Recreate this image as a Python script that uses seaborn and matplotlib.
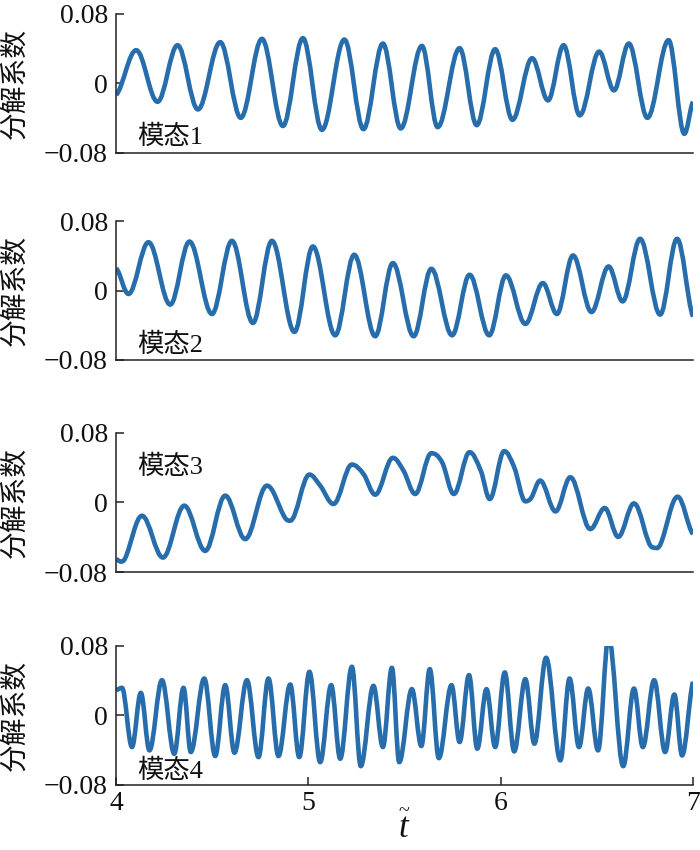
import numpy as np
import pandas as pd
import seaborn as sns
import matplotlib.pyplot as plt
from matplotlib.path import Path
from matplotlib.patches import PathPatch

# ---------------- data (turning points) ----------------
mode1_t = [4.000, 4.104, 4.215, 4.319, 4.425, 4.541, 4.648, 4.758, 4.867, 4.971,
           5.070, 5.187, 5.286, 5.387, 5.480, 5.590, 5.672, 5.786, 5.875, 5.971,
           6.061, 6.163, 6.246, 6.327, 6.411, 6.512, 6.589, 6.666, 6.763, 6.873,
           6.955, 7.000]
mode1_v = [-0.0135, 0.038, -0.0212, 0.0437, -0.030, 0.0472, -0.0396, 0.051, -0.049, 0.0518,
           -0.0534, 0.0502, -0.0526, 0.0456, -0.0518, 0.0429, -0.0503, 0.0403, -0.048, 0.0391,
           -0.0419, 0.0288, -0.0196, 0.0437, -0.0368, 0.0364, -0.0081, 0.0456, -0.0396, 0.0495,
           -0.058, -0.0212]

mode2_t = [4.000, 4.064, 4.168, 4.281, 4.381, 4.498, 4.602, 4.711, 4.810, 4.927,
           5.023, 5.139, 5.238, 5.347, 5.439, 5.547, 5.639, 5.747, 5.838, 5.940,
           6.027, 6.128, 6.219, 6.292, 6.376, 6.472, 6.561, 6.634, 6.725, 6.829,
           6.917, 7.000]
mode2_v = [0.026, -0.0038, 0.056, -0.0161, 0.0568, -0.0269, 0.0576, -0.0372, 0.0576, -0.0476,
           0.0511, -0.0515, 0.0415, -0.0526, 0.0319, -0.0526, 0.0253, -0.0515, 0.0184, -0.0515,
           0.0177, -0.0384, 0.0088, -0.0269, 0.0407, -0.0246, 0.028, -0.0123, 0.0599, -0.0276,
           0.0599, -0.030]

mode3_t = [4.000, 4.024, 4.047, 4.134, 4.243, 4.354, 4.463, 4.567, 4.671, 4.784,
           4.879, 4.905, 5.005, 5.061, 5.130, 5.226, 5.286, 5.347, 5.439, 5.494,
           5.555, 5.639, 5.695, 5.756, 5.838, 5.896, 5.943, 6.018, 6.070, 6.128,
           6.158, 6.205, 6.285, 6.362, 6.466, 6.541, 6.611, 6.693, 6.791, 6.829,
           6.920, 7.000]
mode3_v = [-0.0653, -0.068, -0.064, -0.0154, -0.0634, -0.0038, -0.0557, 0.0077, -0.0422, 0.0192,
           -0.018, -0.0211, 0.0319, 0.0192, -0.0019, 0.0434, 0.0326, 0.0088, 0.0511, 0.0365,
           0.0096, 0.0564, 0.046, 0.0096, 0.0576, 0.0365, 0.0038, 0.0588, 0.0403, 0.0012,
           0.005, 0.025, -0.0104, 0.0288, -0.0307, -0.0065, -0.0396, -0.0012, -0.0518, -0.0488,
           0.0065, -0.0365]

mode4_t = [4.000, 4.030, 4.082, 4.128, 4.173, 4.238, 4.302, 4.350, 4.388, 4.458,
           4.515, 4.567, 4.615, 4.680, 4.740, 4.792, 4.844, 4.905, 4.952, 5.005,
           5.061, 5.118, 5.165, 5.226, 5.272, 5.338, 5.387, 5.434, 5.472, 5.538,
           5.587, 5.631, 5.678, 5.744, 5.786, 5.835, 5.878, 5.926, 5.971, 6.021,
           6.070, 6.128, 6.175, 6.236, 6.310, 6.358, 6.407, 6.455, 6.506, 6.561,
           6.637, 6.693, 6.739, 6.798, 6.855, 6.903, 6.943, 7.000]
mode4_v = [0.029, 0.0315, -0.0365, 0.0257, -0.0403, 0.0403, -0.0442, 0.0315, -0.0422, 0.0422,
           -0.0468, 0.0346, -0.043, 0.0403, -0.048, 0.0422, -0.0468, 0.0353, -0.048, 0.0499,
           -0.0538, 0.0346, -0.0499, 0.0557, -0.0584, 0.0338, -0.0365, 0.0545, -0.0538, 0.030,
           -0.0353, 0.053, -0.0492, 0.0346, -0.0307, 0.0461, -0.0384, 0.030, -0.0365, 0.0492,
           -0.0415, 0.0415, -0.0326, 0.066, -0.0518, 0.0422, -0.0365, 0.0307, -0.0403, 0.090,
           -0.0584, 0.0307, -0.0365, 0.0403, -0.0422, 0.0238, -0.0461, 0.0384]

mode_names = ["模态1", "模态2", "模态3", "模态4"]
y_ticks = [-0.08, 0.0, 0.08]
y_tick_labels = ["\u22120.08", "0", "0.08"]
x_ticks = [4, 5, 6, 7]
x_tick_labels = ["4", "5", "6", "7"]
y_label = "分解系数"

# ---------------- style ----------------
sns.set_theme(style="ticks")
plt.rcParams['font.family'] = ['Liberation Serif', 'Noto Sans CJK SC']
plt.rcParams['mathtext.fontset'] = 'custom'
plt.rcParams['mathtext.it'] = 'Liberation Serif:italic'
plt.rcParams['mathtext.rm'] = 'Liberation Serif'
plt.rcParams['axes.unicode_minus'] = True

line_color = "#286dab"
series = [(mode1_t, mode1_v), (mode2_t, mode2_v), (mode3_t, mode3_v), (mode4_t, mode4_v)]
positions = [
    [0.166, 0.820, 0.824, 0.164],
    [0.166, 0.5765, 0.824, 0.163],
    [0.166, 0.327, 0.824, 0.164],
    [0.166, 0.0765, 0.824, 0.164],
]
label_pos = [(4.11, -0.062), (4.11, -0.062), (4.11, 0.041), (4.11, -0.064)]


def smooth_line(ax, df, color, lw):
    """Draw the read points as a smooth (Bezier) line in data coordinates.
    Turning points get a flat tangent, other points follow their neighbours."""
    t = df["t"].to_numpy()
    v = df["v"].to_numpy()
    n = len(t)
    slope = np.zeros(n)
    for i in range(n):
        if i == 0:
            slope[i] = (v[1] - v[0]) / (t[1] - t[0]) * 0.5
        elif i == n - 1:
            slope[i] = (v[-1] - v[-2]) / (t[-1] - t[-2]) * 0.5
        else:
            is_ext = (v[i] - v[i - 1]) * (v[i + 1] - v[i]) <= 0
            slope[i] = 0.0 if is_ext else (v[i + 1] - v[i - 1]) / (t[i + 1] - t[i - 1])
    k = 0.36
    verts = [(t[0], v[0])]
    codes = [Path.MOVETO]
    for i in range(n - 1):
        dt = t[i + 1] - t[i]
        verts += [(t[i] + k * dt, v[i] + slope[i] * k * dt),
                  (t[i + 1] - k * dt, v[i + 1] - slope[i + 1] * k * dt),
                  (t[i + 1], v[i + 1])]
        codes += [Path.CURVE4] * 3
    patch = PathPatch(Path(verts, codes), facecolor="none", edgecolor=color,
                      linewidth=lw, joinstyle="round", capstyle="butt",
                      transform=ax.transData)
    ax.add_patch(patch)


fig = plt.figure(figsize=(7, 8.5), dpi=100)
for i, ((t, v), pos) in enumerate(zip(series, positions)):
    ax = fig.add_axes(pos)
    df = pd.DataFrame({"t": t, "v": v})
    smooth_line(ax, df, line_color, 3.3)
    ax.set_xlim(4, 7)
    ax.set_ylim(-0.08, 0.08)
    ax.set_yticks(y_ticks)
    ax.set_yticklabels(y_tick_labels)
    sns.despine(ax=ax)
    for s in ["left", "bottom"]:
        ax.spines[s].set_color("#222222")
        ax.spines[s].set_linewidth(1.1)
    ax.tick_params(axis="y", direction="in", length=6, width=1.1, color="#222222",
                   labelsize=20, pad=6, labelcolor="#111111")
    if i < 3:
        ax.tick_params(axis="x", bottom=False, labelbottom=False)
    else:
        ax.set_xticks(x_ticks)
        ax.set_xticklabels(x_tick_labels)
        ax.tick_params(axis="x", direction="in", length=6, width=1.1, color="#222222",
                       labelsize=20, pad=4, labelcolor="#111111")
        ax.set_xlabel(r"$\widetilde{t}$", fontsize=25, labelpad=-2, color="#111111")
    ax.set_ylabel(y_label, fontsize=20, family=['Noto Sans CJK SC'], color="#111111")
    ax.yaxis.set_label_coords(-0.150, 0.5)
    ax.text(label_pos[i][0], label_pos[i][1], mode_names[i], fontsize=19,
            ha="left", va="center", color="#111111",
            family=['Liberation Serif', 'Noto Sans CJK SC'])
    ax.grid(False)

fig.savefig("out.png", dpi=100)
